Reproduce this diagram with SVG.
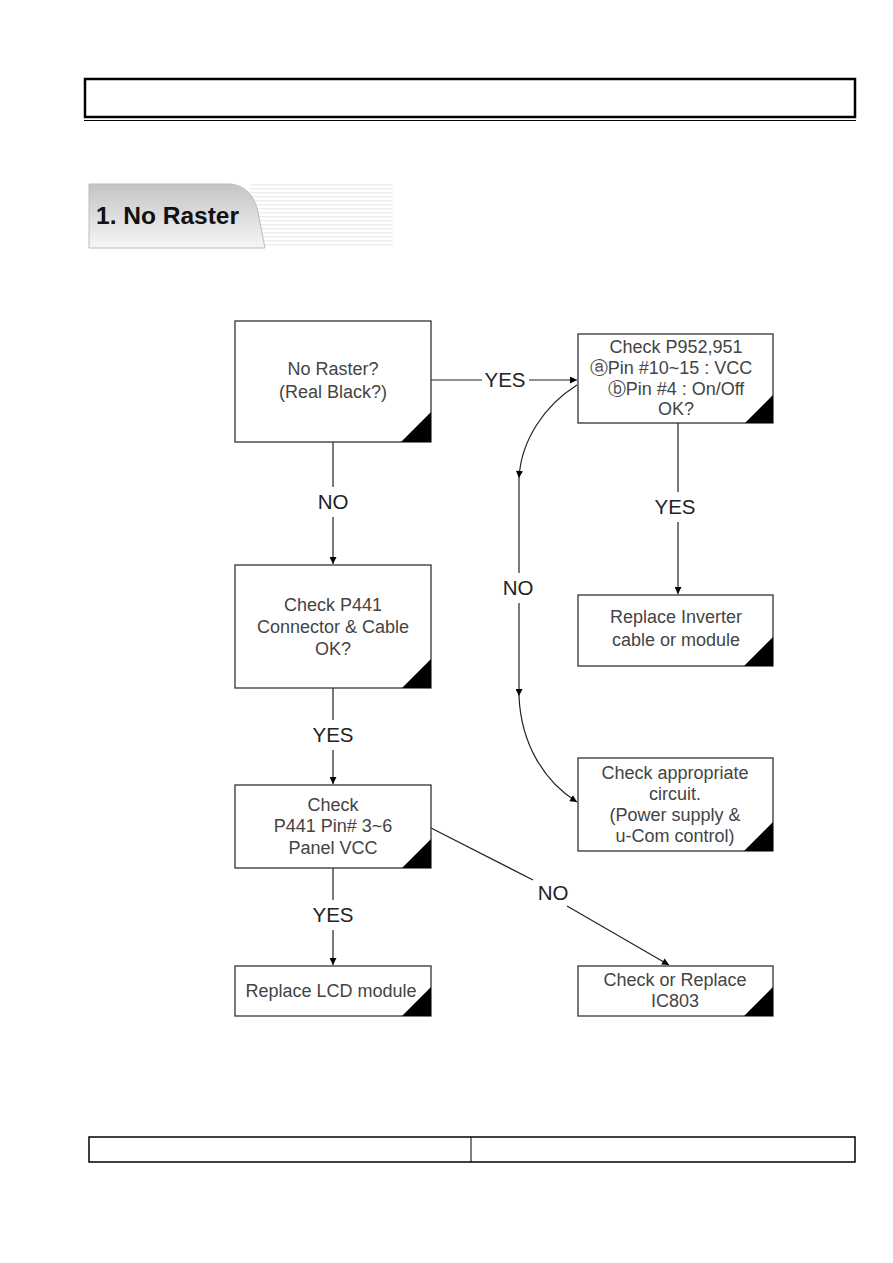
<svg xmlns="http://www.w3.org/2000/svg" width="893" height="1263" viewBox="0 0 893 1263">
<defs>
<style>
.box{fill:#fff;stroke:#333;stroke-width:1.3}
.corner{fill:#000}
.t{font-family:"Liberation Sans",Arial,sans-serif;font-size:18px;fill:#444;text-anchor:middle}
.lbl{font-family:"Liberation Sans",Arial,sans-serif;font-size:20.5px;fill:#222;text-anchor:middle}
.ln{fill:none;stroke:#222;stroke-width:1.2}
</style>
<marker id="ah" viewBox="0 0 10 10" refX="10" refY="5" markerWidth="8" markerHeight="7" markerUnits="userSpaceOnUse" orient="auto">
<path d="M0,0 L10,5 L0,10 Z" fill="#000"/>
</marker>
<linearGradient id="tabg" x1="0" y1="0" x2="0" y2="1">
<stop offset="0" stop-color="#c4c4c4"/>
<stop offset="1" stop-color="#f6f6f6"/>
</linearGradient>
<pattern id="stripes" width="4" height="4" patternUnits="userSpaceOnUse">
<rect width="4" height="4" fill="#fff"/>
<rect width="4" height="1.3" fill="#ececec"/>
</pattern>
</defs>
<rect width="893" height="1263" fill="#fff"/>

<g id="header">
<rect x="85" y="79" width="770" height="38" fill="none" stroke="#000" stroke-width="2.5"/>
<line x1="84" y1="120.5" x2="856" y2="120.5" stroke="#000" stroke-width="1"/>
</g>

<g id="section-title">
<rect x="250" y="184" width="143" height="64" fill="url(#stripes)"/>
<path d="M89,184 L230,184 Q252,186 258,212 L265,248 L89,248 Z" fill="url(#tabg)" stroke="#bbb" stroke-width="1"/>
<text x="96" y="224" font-family="Liberation Sans,Arial,sans-serif" font-size="24.5" font-weight="bold" fill="#111">1. No Raster</text>
</g>

<g id="connectors">
<line class="ln" x1="431" y1="380" x2="482" y2="380"/>
<line class="ln" x1="529" y1="380" x2="577" y2="380" marker-end="url(#ah)"/>
<text class="lbl" x="505" y="387">YES</text>

<line class="ln" x1="333" y1="442" x2="333" y2="487"/>
<line class="ln" x1="333" y1="517" x2="333" y2="564" marker-end="url(#ah)"/>
<text class="lbl" x="333" y="509">NO</text>

<line class="ln" x1="333" y1="688" x2="333" y2="720"/>
<line class="ln" x1="333" y1="750" x2="333" y2="784" marker-end="url(#ah)"/>
<text class="lbl" x="333" y="742">YES</text>

<line class="ln" x1="333" y1="868" x2="333" y2="900"/>
<line class="ln" x1="333" y1="930" x2="333" y2="965" marker-end="url(#ah)"/>
<text class="lbl" x="333" y="922">YES</text>

<line class="ln" x1="431" y1="828" x2="533" y2="880"/>
<line class="ln" x1="567" y1="906" x2="669" y2="965" marker-end="url(#ah)"/>
<text class="lbl" x="553" y="900">NO</text>

<line class="ln" x1="678" y1="423" x2="678" y2="492"/>
<line class="ln" x1="678" y1="522" x2="678" y2="594" marker-end="url(#ah)"/>
<text class="lbl" x="675" y="514">YES</text>

<path class="ln" d="M577,385 C545,405 521,440 519,478" marker-end="url(#ah)"/>
<line class="ln" x1="519" y1="478" x2="519" y2="573"/>
<line class="ln" x1="519" y1="603" x2="519" y2="696" marker-end="url(#ah)"/>
<text class="lbl" x="518" y="595">NO</text>
<path class="ln" d="M519,696 C521,745 545,782 577,802" marker-end="url(#ah)"/>
</g>

<g id="n1">
<rect class="box" x="235" y="321" width="196" height="121"/>
<path class="corner" d="M431,412 L431,442 L401,442 Z"/>
<text class="t" x="333" y="375">No Raster?</text>
<text class="t" x="333" y="398">(Real Black?)</text>
</g>

<g id="n2">
<rect class="box" x="578" y="334" width="195" height="89"/>
<path class="corner" d="M773,395 L773,423 L745,423 Z"/>
<text class="t" x="676" y="353">Check P952,951</text>
<text class="t" x="671" y="374">ⓐPin #10~15 : VCC</text>
<text class="t" x="676" y="395">ⓑPin #4 : On/Off</text>
<text class="t" x="676" y="415">OK?</text>
</g>

<g id="n3">
<rect class="box" x="235" y="565" width="196" height="123"/>
<path class="corner" d="M431,659 L431,688 L402,688 Z"/>
<text class="t" x="333" y="611">Check P441</text>
<text class="t" x="333" y="633">Connector &amp; Cable</text>
<text class="t" x="333" y="655">OK?</text>
</g>

<g id="n4">
<rect class="box" x="578" y="595" width="195" height="71"/>
<path class="corner" d="M773,637 L773,666 L744,666 Z"/>
<text class="t" x="676" y="623">Replace Inverter</text>
<text class="t" x="676" y="646">cable or module</text>
</g>

<g id="n5">
<rect class="box" x="235" y="785" width="196" height="83"/>
<path class="corner" d="M431,839 L431,868 L402,868 Z"/>
<text class="t" x="333" y="811">Check</text>
<text class="t" x="333" y="832">P441 Pin# 3~6</text>
<text class="t" x="333" y="854">Panel VCC</text>
</g>

<g id="n6">
<rect class="box" x="578" y="758" width="195" height="93"/>
<path class="corner" d="M773,822 L773,851 L744,851 Z"/>
<text class="t" x="675" y="779">Check appropriate</text>
<text class="t" x="675" y="800">circuit.</text>
<text class="t" x="675" y="821">(Power supply &amp;</text>
<text class="t" x="675" y="842">u-Com control)</text>
</g>

<g id="n7">
<rect class="box" x="235" y="966" width="196" height="50"/>
<path class="corner" d="M431,987 L431,1016 L402,1016 Z"/>
<text class="t" x="331" y="997">Replace LCD module</text>
</g>

<g id="n8">
<rect class="box" x="578" y="966" width="195" height="50"/>
<path class="corner" d="M773,987 L773,1016 L744,1016 Z"/>
<text class="t" x="675" y="986">Check or Replace</text>
<text class="t" x="675" y="1007">IC803</text>
</g>

<g id="footer">
<rect x="89" y="1137" width="766" height="25" fill="none" stroke="#000" stroke-width="1.5"/>
<line x1="471" y1="1137" x2="471" y2="1162" stroke="#000" stroke-width="1"/>
</g>
</svg>
